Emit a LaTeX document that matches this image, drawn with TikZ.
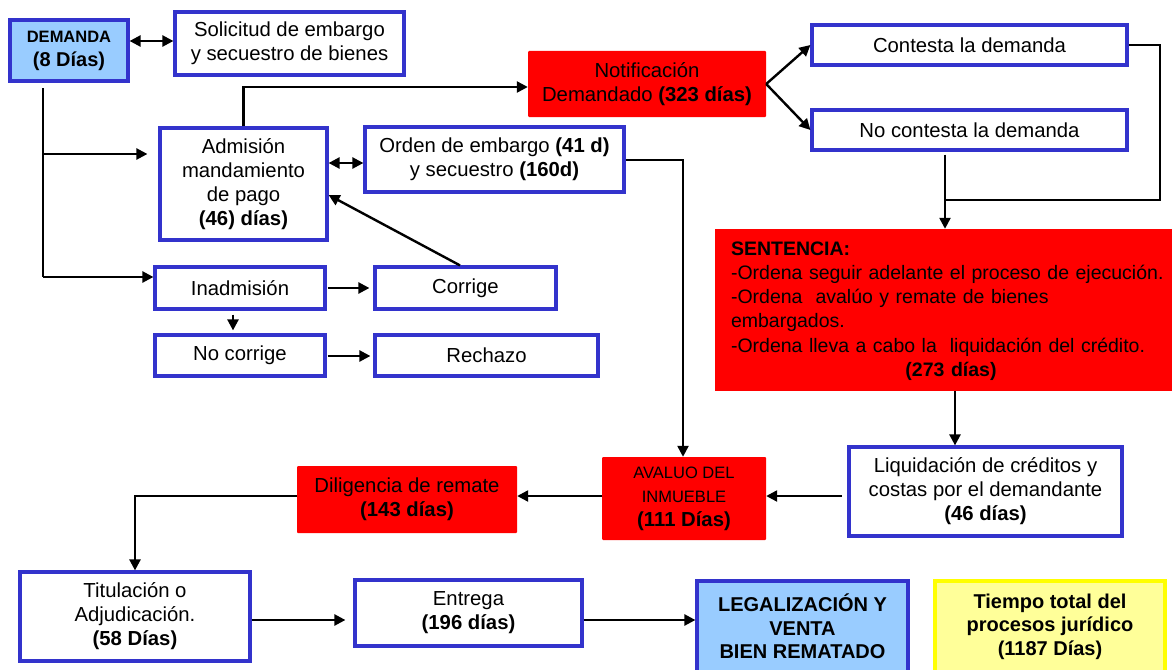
\documentclass[tikz,border=0pt]{standalone}
\usepackage{fontspec}
\setmainfont{Liberation Sans}
\usetikzlibrary{arrows.meta}
\definecolor{bborder}{RGB}{51,51,204}
\definecolor{lblue}{RGB}{153,204,255}
\definecolor{lyellow}{RGB}{255,255,153}
\definecolor{yborder}{RGB}{255,255,0}
\definecolor{redf}{RGB}{255,0,0}
\begin{document}
\begin{tikzpicture}[x=1pt,y=-1pt,
  base/.style={align=center, inner sep=0pt, font=\fontsize{20.3}{24}\selectfont},
  box/.style={base, draw=bborder, line width=3.2pt, fill=white},
  bluebox/.style={box, fill=lblue},
  yelbox/.style={base, draw=yborder, line width=3.2pt, fill=lyellow},
  redbox/.style={base, fill=redf, draw=none, rounded corners=1pt},
  conn/.style={line width=2.4pt, draw=black},
  arr/.style={conn, -{Triangle[length=11pt,width=11pt]}},
  darr/.style={conn, {Triangle[length=11pt,width=11pt]}-{Triangle[length=11pt,width=11pt]}}]
\useasboundingbox (0,0) rectangle (1172,669);
\fill[white] (0,0) rectangle (1172,669);

% boxes
\node[bluebox, minimum width=118pt, minimum height=61pt] (demanda) at (69,50.5)
  {{\fontsize{16.5}{21}\selectfont\bfseries DEMANDA}\\{\fontsize{20}{23}\selectfont\bfseries (8 Días)}};
\node[box, minimum width=229pt, minimum height=63pt] (solicitud) at (289.5,43.5)
  {Solicitud de embargo\\y secuestro de bienes};
\node[redbox, minimum width=238pt, minimum height=66pt] (notif) at (647,84)
  {Notificación\\Demandado \textbf{(323 días)}};
\node[box, minimum width=315pt, minimum height=40pt] (contesta) at (969.5,45)
  {Contesta la demanda};
\node[box, minimum width=315pt, minimum height=40pt] (nocont) at (969.5,130)
  {No contesta la demanda};
\node[box, minimum width=167pt, minimum height=112pt] (admision) at (243.5,184)
  {Admisión\\mandamiento\\de pago\\\textbf{(46) días)}};
\node[box, minimum width=259pt, minimum height=65pt] (orden) at (494.5,159.5)
  {Orden de embargo \textbf{(41 d)}\\y secuestro \textbf{(160d)}};
\node[box, minimum width=170pt, minimum height=42pt] (inadm) at (240,288) {Inadmisión};
\node[box, minimum width=181pt, minimum height=42pt] (corrige) at (465.5,288) {Corrige};
\node[box, minimum width=170pt, minimum height=41pt] (nocorr) at (240,355.5) {No corrige};
\node[box, minimum width=223pt, minimum height=41pt] (rechazo) at (486.5,355.5) {Rechazo};
\node[redbox, rounded corners=0pt, minimum width=459pt, minimum height=162pt] (sent) at (944.5,310) {};
\node[base, text width=440pt, align=left, font=\fontsize{19.5}{24.2}\selectfont] (senttxt) at (951,311)
  {\textbf{SENTENCIA:}\\
   -Ordena seguir adelante el proceso de ejecución.\\
   -Ordena\ \ avalúo y remate de bienes\\
   embargados.\\
   -Ordena lleva a cabo la\ \ liquidación del crédito.\\
   \makebox[\linewidth][c]{\textbf{(273 días)}}};
\node[box, minimum width=273pt, minimum height=89pt] (liq) at (985.5,491.5)
  {Liquidación de créditos y\\costas por el demandante\\\textbf{(46 días)}};
\node[redbox, minimum width=164pt, minimum height=83pt] (avaluo) at (684,498.5)
  {{\fontsize{16.5}{20}\selectfont AVALUO DEL}\\{\fontsize{16.5}{20}\selectfont INMUEBLE}\\\textbf{(111 Días)}};
\node[redbox, minimum width=220pt, minimum height=67pt] (dilig) at (407,499.5)
  {Diligencia de remate\\\textbf{(143 días)}};
\node[box, minimum width=230pt, minimum height=89pt] (titul) at (135,616.5)
  {Titulación o\\Adjudicación.\\\textbf{(58 Días)}};
\node[box, minimum width=227pt, minimum height=66pt] (entrega) at (468.5,613)
  {Entrega\\\textbf{(196 días)}};
\node[bluebox, minimum width=211pt, minimum height=91pt, font=\fontsize{20}{23.5}\selectfont\bfseries] (legal) at (802.5,626.5)
  {LEGALIZACIÓN Y\\VENTA\\BIEN REMATADO};
\node[yelbox, minimum width=230pt, minimum height=91pt, font=\fontsize{20}{23.5}\selectfont\bfseries] (tiempo) at (1050,626.5)
  {Tiempo total del\\procesos jurídico\\(1187 Días)};

% connectors
\draw[darr] (solicitud.west |- 0,41) -- (demanda.east |- 0,41);
\coordinate (t1) at (43,88);
\coordinate (t2) at (43,154);
\coordinate (t3) at (43,277);
\draw[conn] (t1) -- (t3);
\draw[arr] (t3) -- (inadm.west |- t3);
\draw[arr, shorten >=11pt] (t2) -- (admision.west |- t2);
\draw[arr] (admision.north) |- (notif.west |- 0,87);
\draw[darr] (admision.east |- 0,163) -- (orden.west |- 0,163);
\draw[arr] (orden.east |- 0,160) -| (avaluo.north -| 683,0);
\draw[arr] (notif.east) -- (contesta.west);
\draw[arr] (notif.east) -- (nocont.west);
\coordinate (join) at (945,200);
\draw[conn] (contesta.east) -| (1160,200) -- (join);
\draw[arr, shorten <=3pt] (nocont.south -| join) -- (sent.north -| join);
\draw[arr] (sent.south -| 955,0) -- (liq.north -| 955,0);
\coordinate (l1) at (842,496);
\draw[arr] (l1) -- (avaluo.east |- l1);
\draw[arr] (avaluo.west |- 0,496) -- (dilig.east |- 0,496);
\draw[arr] (dilig.west |- 0,496) -| (titul.north);
\draw[arr, shorten >=8pt] (titul.east |- 0,620) -- (entrega.west |- 0,620);
\draw[arr] (entrega.east |- 0,620) -- (legal.west |- 0,620);
\draw[arr, shorten >=4pt, shorten <=1pt] (inadm.east |- 0,288) -- (corrige.west |- 0,288);
\draw[arr, shorten <=4pt, shorten >=3pt] (inadm.south -| 233,0) -- (nocorr.north -| 233,0);
\draw[arr, shorten <=1pt, shorten >=3pt] (nocorr.east |- 0,356) -- (rechazo.west |- 0,356);
\draw[arr] (corrige.north -| 460,0) -- (admision.east |- 0,195);
\end{tikzpicture}
\end{document}
